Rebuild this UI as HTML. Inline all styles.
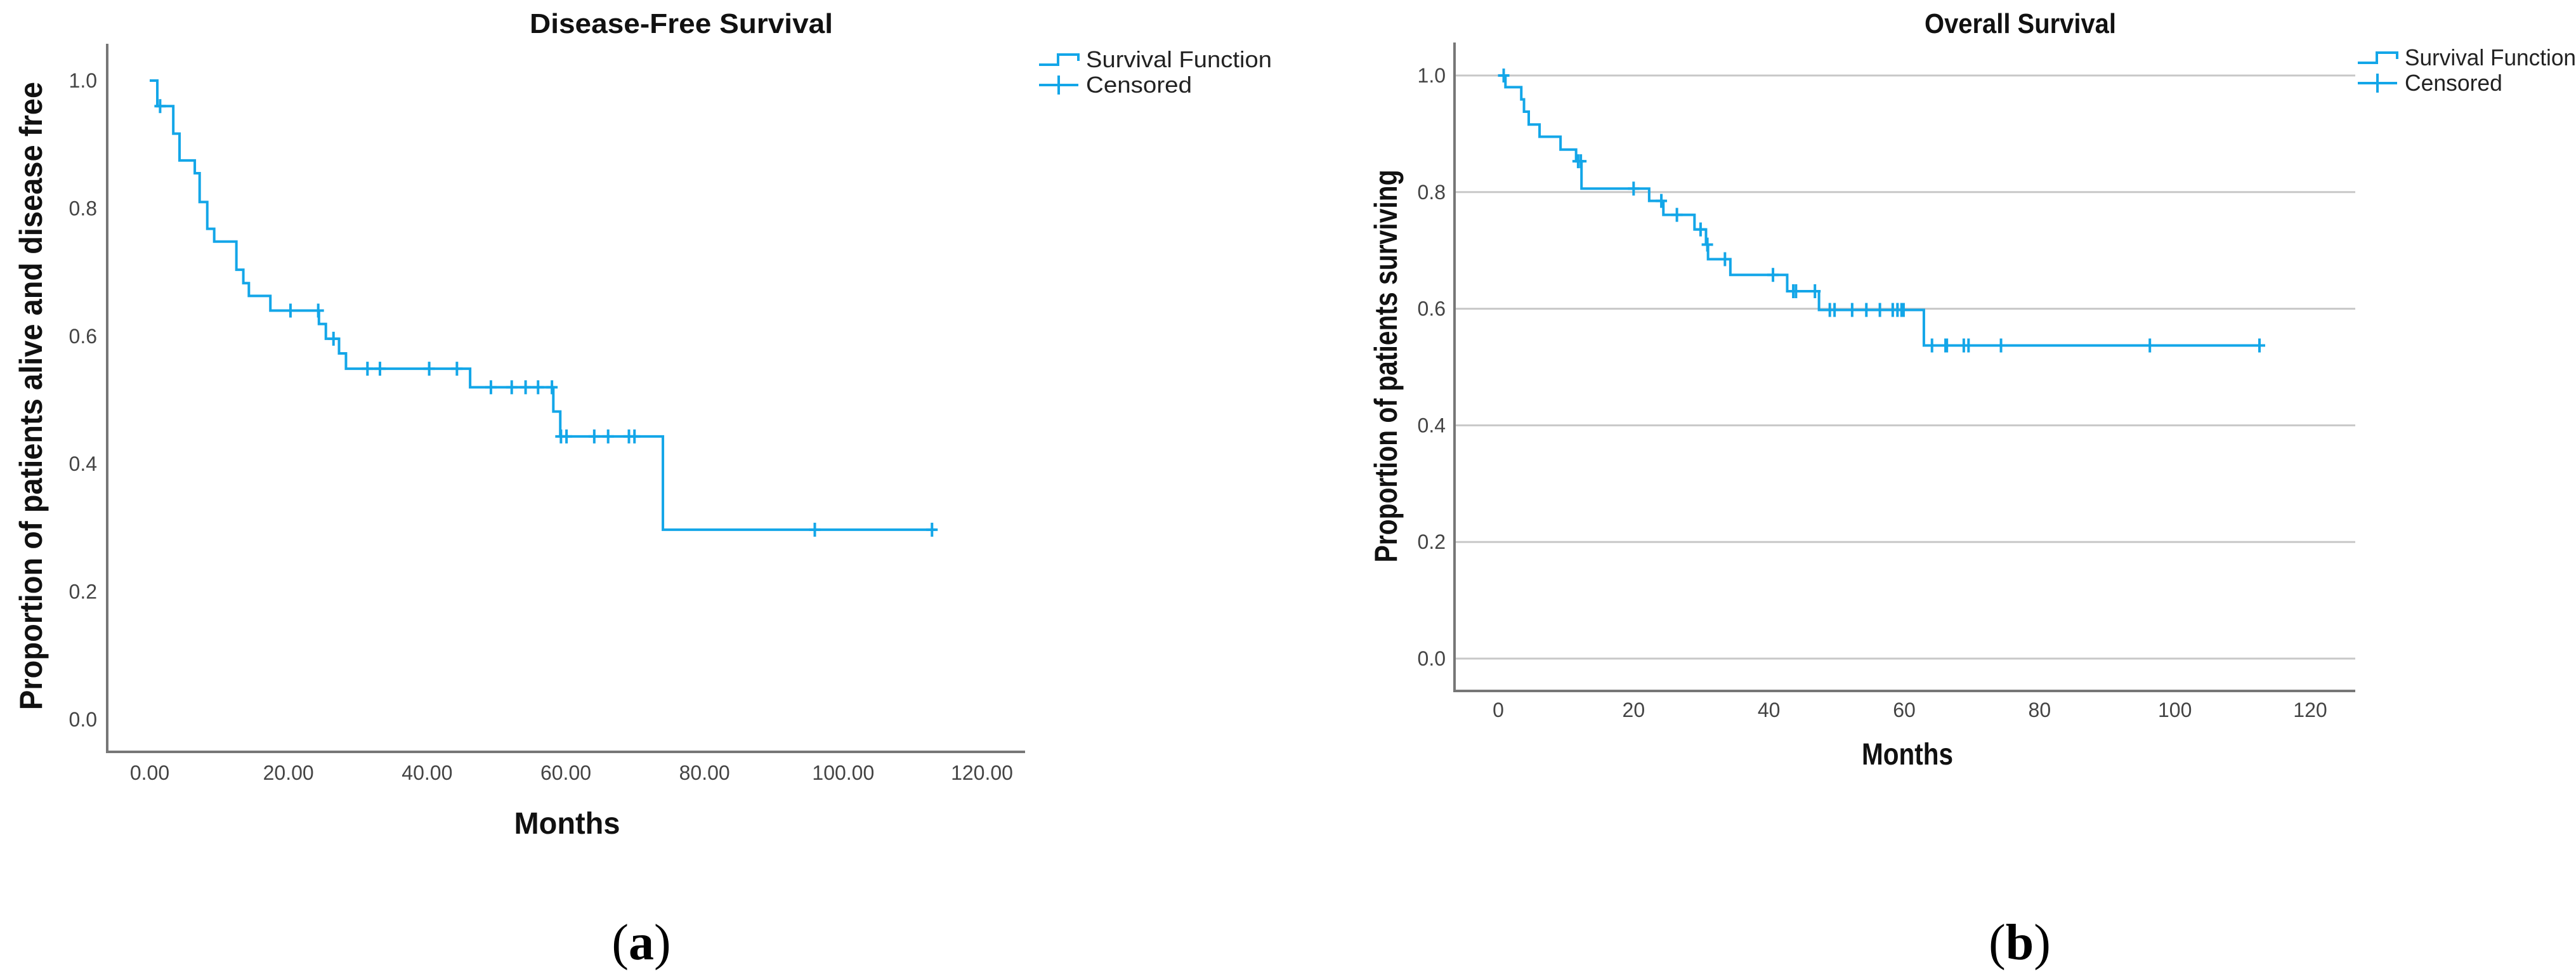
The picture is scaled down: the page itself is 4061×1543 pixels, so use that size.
<!DOCTYPE html>
<html><head><meta charset="utf-8"><style>
html,body{margin:0;padding:0;background:#fff;}
svg{display:block;}
text{font-family:"Liberation Sans",sans-serif;}
</style></head><body>
<svg id="fig" width="4061" height="1543" viewBox="0 0 4061 1543" xmlns="http://www.w3.org/2000/svg">
<g id="chartA"></g>
<g id="chartB"></g>
<text x="1011" y="1512" text-anchor="middle" font-family="Liberation Serif,serif" font-size="80" style="font-family:'Liberation Serif',serif">(<tspan font-weight="bold">a</tspan>)</text>
<text x="3184" y="1512" text-anchor="middle" font-size="80" style="font-family:'Liberation Serif',serif">(<tspan font-weight="bold">b</tspan>)</text>
</svg>
<script>
// ---- Chart A data (Disease-free survival) ----
const dfsStepTimes = [0, 1.1, 3.4, 4.3, 6.5, 7.2, 8.3, 9.3, 12.5, 13.5, 14.3, 17.4, 24.4, 25.4, 27.3, 28.3, 46.2, 58.2, 59.2, 74.0];
const dfsStepValues = [1.0, 0.96, 0.917, 0.875, 0.855, 0.81, 0.768, 0.748, 0.704, 0.683, 0.663, 0.640, 0.619, 0.596, 0.573, 0.549, 0.520, 0.482, 0.443, 0.297];
const dfsCensorTimes = [1.5, 20.3, 24.3, 26.5, 31.4, 33.2, 40.3, 44.3, 49.2, 52.2, 54.2, 56.0, 58.0, 59.3, 60.1, 64.1, 66.1, 69.1, 69.9, 95.9, 112.8];
const dfsEnd = 113.3;
const dfsXTicks = ["0.00","20.00","40.00","60.00","80.00","100.00","120.00"];
const dfsYTicks = ["0.0","0.2","0.4","0.6","0.8","1.0"];

// ---- Chart B data (Overall survival) ----
const osStepTimes = [0, 1.06, 3.4, 3.8, 4.5, 6.1, 9.2, 11.5, 12.3, 22.3, 24.4, 29.0, 30.7, 31.0, 34.3, 42.7, 47.4, 62.9];
const osStepValues = [1.0, 0.98, 0.959, 0.938, 0.916, 0.895, 0.873, 0.853, 0.806, 0.785, 0.761, 0.736, 0.71, 0.685, 0.658, 0.63, 0.598, 0.537];
const osCensorTimes = [0.8, 11.8, 12.2, 20.0, 24.1, 26.4, 29.9, 30.9, 33.5, 40.6, 43.6, 44.0, 46.8, 49.0, 49.7, 52.3, 54.4, 56.4, 58.3, 59.0, 59.6, 59.9, 64.1, 66.1, 66.3, 68.8, 69.5, 74.3, 96.3, 112.5];
const osEnd = 113.2;
const osXTicks = ["0","20","40","60","80","100","120"];
const osYTicks = ["0.0","0.2","0.4","0.6","0.8","1.0"];

const NS = "http://www.w3.org/2000/svg";
const BLUE = "#13a6e8";
function mk(parent, tag, attrs){
  const e = document.createElementNS(NS, tag);
  for (const k in attrs) e.setAttribute(k, attrs[k]);
  parent.appendChild(e);
  return e;
}
function stepAt(times, vals, t){
  let v = vals[0];
  for (let i=0;i<times.length;i++){ if (times[i] <= t) v = vals[i]; }
  return v;
}
function drawChart(g, cfg){
  const sx = t => cfg.x0 + (t/120)*(cfg.x120 - cfg.x0);
  const sy = v => cfg.y0 + v*(cfg.y1 - cfg.y0);
  // gridlines
  if (cfg.grid){
    cfg.yTicks.forEach((lab,i)=>{
      const l = mk(g,'line',{x1:cfg.axX, x2:cfg.axRight, y1:sy(i*0.2), y2:sy(i*0.2), stroke:'#c8c8c8','stroke-width':3});
      
      
    });
  }
  // axes
  const ax = mk(g,'path',{d:`M${cfg.axX},${cfg.axTop} V${cfg.axBottom} H${cfg.axRight}`, fill:'none', stroke:'#777','stroke-width':4});
  
  
  // y tick labels
  cfg.yTicks.forEach((lab,i)=>{
    const t = mk(g,'text',{x:cfg.yLabRight, y:sy(i*0.2)+11, 'text-anchor':'end','font-size':32, fill:'#444'});
    t.textContent = lab;
    
    
  });
  // x tick labels
  cfg.xTicks.forEach((lab,i)=>{
    const t = mk(g,'text',{x:sx(i*20), y:cfg.xLabY, 'text-anchor':'middle','font-size':32, fill:'#444'});
    t.textContent = lab;
    
    
  });
  // survival step line
  let d = `M${sx(cfg.times[0])},${sy(cfg.vals[0])}`;
  for (let i=1;i<cfg.times.length;i++){
    d += ` H${sx(cfg.times[i])} V${sy(cfg.vals[i])}`;
  }
  d += ` H${sx(cfg.end)}`;
  const p = mk(g,'path',{d:d, fill:'none', stroke:BLUE,'stroke-width':4});
  
  
  // censor marks
  cfg.censors.forEach(t=>{
    const x = sx(t), y = sy(stepAt(cfg.times, cfg.vals, t));
    const c = mk(g,'path',{d:`M${x-9},${y} H${x+9} M${x},${y-11} V${y+11}`, stroke:BLUE,'stroke-width':4, fill:'none'});
    
    
  });
  // titles
  const ti = mk(g,'text',{x:cfg.titleX, y:52, 'text-anchor':'middle','font-size':44,'font-weight':'bold', fill:'#111', textLength:cfg.titleW, lengthAdjust:'spacingAndGlyphs'});
  ti.textContent = cfg.title;
  
  
  const xt = mk(g,'text',{x:cfg.monthsX, y:cfg.monthsY, 'text-anchor':'middle','font-size':48,'font-weight':'bold', fill:'#111', textLength:cfg.monthsW, lengthAdjust:'spacingAndGlyphs'});
  xt.textContent = 'Months';
  
  
  const yt = mk(g,'text',{x:0, y:0, 'text-anchor':'middle','font-size':50,'font-weight':'bold', fill:'#111', textLength:cfg.yTitleLen, lengthAdjust:'spacingAndGlyphs', transform:`translate(${cfg.yTitleX},${cfg.yTitleY}) rotate(-90)`});
  yt.textContent = cfg.yTitle;
  
  
  // legend
  const lx = cfg.legX, ly1 = cfg.legY, ly2 = cfg.legY + 40;
  const ls = mk(g,'path',{d:`M${lx},${ly1+8} H${lx+30} V${ly1-8} H${lx+62} V${ly1+2}`, fill:'none', stroke:BLUE,'stroke-width':4});
  
  
  const lc = mk(g,'path',{d:`M${lx},${ly2} H${lx+62} M${lx+31},${ly2-15} V${ly2+15}`, fill:'none', stroke:BLUE,'stroke-width':4});
  
  
  const lt1 = mk(g,'text',{x:lx+74, y:ly1+12,'font-size':36, fill:'#222', textLength:cfg.legW, lengthAdjust:'spacingAndGlyphs'});
  lt1.textContent = 'Survival Function';
  
  
  const lt2 = mk(g,'text',{x:lx+74, y:ly2+12,'font-size':36, fill:'#222', textLength:cfg.legW*0.57, lengthAdjust:'spacingAndGlyphs'});
  lt2.textContent = 'Censored';
  
  
}

drawChart(document.getElementById('chartA'), {
  x0:236, x120:1548, y0:1134, y1:127,
  axX:169, axTop:69, axBottom:1185, axRight:1616,
  yLabRight:153, xLabY:1229, grid:false,
  xTicks:dfsXTicks, yTicks:dfsYTicks,
  times:dfsStepTimes, vals:dfsStepValues, censors:dfsCensorTimes, end:dfsEnd,
  title:'Disease-Free Survival', titleX:1074, titleW:478,
  monthsX:894, monthsY:1314, monthsW:167,
  yTitle:'Proportion of patients alive and disease free', yTitleX:66, yTitleY:624, yTitleLen:990,
  legX:1638, legY:94, legW:293
});
drawChart(document.getElementById('chartB'), {
  x0:2362, x120:3642, y0:1038, y1:119,
  axX:2293, axTop:67, axBottom:1089, axRight:3713,
  yLabRight:2279, xLabY:1130, grid:true,
  xTicks:osXTicks, yTicks:osYTicks,
  times:osStepTimes, vals:osStepValues, censors:osCensorTimes, end:osEnd,
  title:'Overall Survival', titleX:3185, titleW:302,
  monthsX:3007, monthsY:1205, monthsW:144,
  yTitle:'Proportion of patients surviving', yTitleX:2202, yTitleY:577, yTitleLen:619,
  legX:3717, legY:91, legW:270
});
</script>
</body></html>
